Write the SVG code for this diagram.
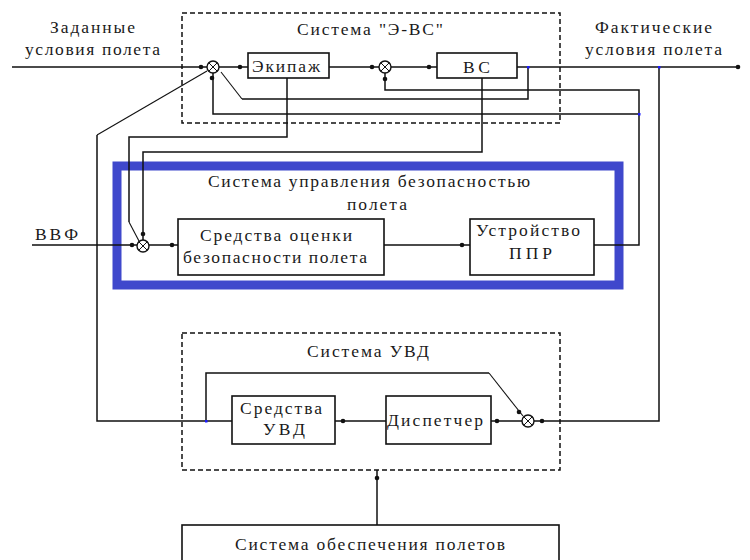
<svg xmlns="http://www.w3.org/2000/svg" xmlns:xlink="http://www.w3.org/1999/xlink" width="750" height="560" viewBox="0 0 750 560">
<style>
text{font-family:"Liberation Serif","Times New Roman",serif;font-size:17.5px;fill:#1a1a1a;}
.box{fill:#fff;stroke:#111;stroke-width:1.6;}
.dash{fill:none;stroke:#111;stroke-width:1.5;stroke-dasharray:5 3;}
.ln{fill:none;stroke:#111;stroke-width:1.5;}
.dg{fill:none;stroke:#111;stroke-width:1.1;}
.sum{fill:#fff;stroke:#111;stroke-width:1.4;}
.jn{fill:#1a1aff;}
</style>
<defs>
<circle id="dot" r="2.3" fill="#111"/>
<g id="summ"><circle r="6" class="sum"/><path d="M-4.2,-4.2L4.2,4.2M4.2,-4.2L-4.2,4.2" stroke="#111" stroke-width="1"/></g>
</defs>
<rect width="750" height="560" fill="#fff"/>

<g id="sys-evs"><rect x="182" y="13" width="378" height="110" class="dash"/><text x="297" y="35" textLength="146" lengthAdjust="spacing">Система "Э-ВС"</text></g>
<g id="sys-uvd"><rect x="182" y="333" width="378" height="137" class="dash"/><text x="307" y="357" textLength="122" lengthAdjust="spacing">Система УВД</text></g>
<g id="sys-sup"><rect x="117" y="166" width="502" height="119" fill="none" stroke="#3F48CC" stroke-width="9"/><text x="208" y="187" textLength="322" lengthAdjust="spacing">Система управления безопасностью</text><text x="347" y="210" textLength="60" lengthAdjust="spacing">полета</text></g>

<g id="connectors">
<path class="ln" d="M12,67H207M219,67H248M329,67H379M391,67H437M517,67H740"/>
<path class="ln" d="M528,67V99H242"/>
<path class="dg" d="M242,99L221,72"/>
<path class="ln" d="M385,73V90H639V245H594"/>
<path class="ln" d="M639,114H213V73"/>
<path class="ln" d="M659,67V421H534"/>
<path class="ln" d="M287,78V137H129V222"/>
<path class="dg" d="M129,222L139,241"/>
<path class="ln" d="M482,78V152H143V240"/>
<path class="ln" d="M32,245H137M149,245H178M384,245H470"/>
<path class="dg" d="M207,71L97,135"/>
<path class="ln" d="M97,135V421H232"/>
<path class="ln" d="M206,421V373H489"/>
<path class="dg" d="M489,373L523,416"/>
<path class="ln" d="M522,421H491M386,421H335"/>
<path class="ln" d="M377,525V470"/>
<use href="#dot" x="201" y="67"/><use href="#dot" x="240" y="67"/><use href="#dot" x="372" y="67"/><use href="#dot" x="429" y="67"/><use href="#dot" x="738" y="67"/>
<use href="#dot" x="385" y="79"/><use href="#dot" x="212" y="78"/>
<use href="#dot" x="132" y="245"/><use href="#dot" x="143" y="234"/><use href="#dot" x="172" y="245"/><use href="#dot" x="462" y="245"/>
<use href="#dot" x="343" y="421"/><use href="#dot" x="497" y="421"/><use href="#dot" x="542" y="421"/><use href="#dot" x="519" y="412"/>
<use href="#dot" x="377" y="478"/>
<rect class="jn" x="527" y="66" width="2.5" height="2.5"/><rect class="jn" x="658" y="66" width="2.5" height="2.5"/><rect class="jn" x="638" y="113" width="2.5" height="2.5"/><rect class="jn" x="205" y="420" width="2.5" height="2.5"/>
</g>

<g id="sum1"><use href="#summ" x="213" y="67"/></g>
<g id="sum2"><use href="#summ" x="385" y="67"/></g>
<g id="sum3"><use href="#summ" x="143" y="246"/></g>
<g id="sum4"><use href="#summ" x="528" y="421"/></g>

<g id="ekipazh"><rect x="248" y="53" width="81" height="25" class="box"/><text x="252" y="72" textLength="68" lengthAdjust="spacing">Экипаж</text></g>
<g id="vs"><rect x="437" y="53" width="80" height="25" class="box"/><text x="463" y="73" textLength="27" lengthAdjust="spacing">ВС</text></g>
<g id="ocenka"><rect x="178" y="219" width="206" height="56" class="box"/><text x="200" y="241" textLength="152" lengthAdjust="spacing">Средства оценки</text><text x="183" y="263" textLength="184" lengthAdjust="spacing">безопасности полета</text></g>
<g id="ppr"><rect x="470" y="219" width="124" height="56" class="box"/><text x="476" y="236" textLength="104" lengthAdjust="spacing">Устройство</text><text x="509" y="259" textLength="43" lengthAdjust="spacing">ППР</text></g>
<g id="sredstva-uvd"><rect x="232" y="396" width="103" height="48" class="box"/><text x="240" y="414" textLength="82" lengthAdjust="spacing">Средства</text><text x="263" y="435" textLength="42" lengthAdjust="spacing">УВД</text></g>
<g id="dispetcher"><rect x="386" y="396" width="105" height="48" class="box"/><text x="387" y="426" textLength="96" lengthAdjust="spacing">Диспетчер</text></g>
<g id="obespechenie"><rect x="182" y="525" width="377" height="45" class="box"/><text x="235" y="550" textLength="270" lengthAdjust="spacing">Система обеспечения полетов</text></g>

<g id="labels">
<text x="50" y="33" textLength="85" lengthAdjust="spacing">Заданные</text>
<text x="25" y="55" textLength="135" lengthAdjust="spacing">условия полета</text>
<text x="595" y="33" textLength="117" lengthAdjust="spacing">Фактические</text>
<text x="585" y="55" textLength="137" lengthAdjust="spacing">условия полета</text>
<text x="35" y="240" textLength="43" lengthAdjust="spacing">ВВФ</text>
</g>
</svg>
